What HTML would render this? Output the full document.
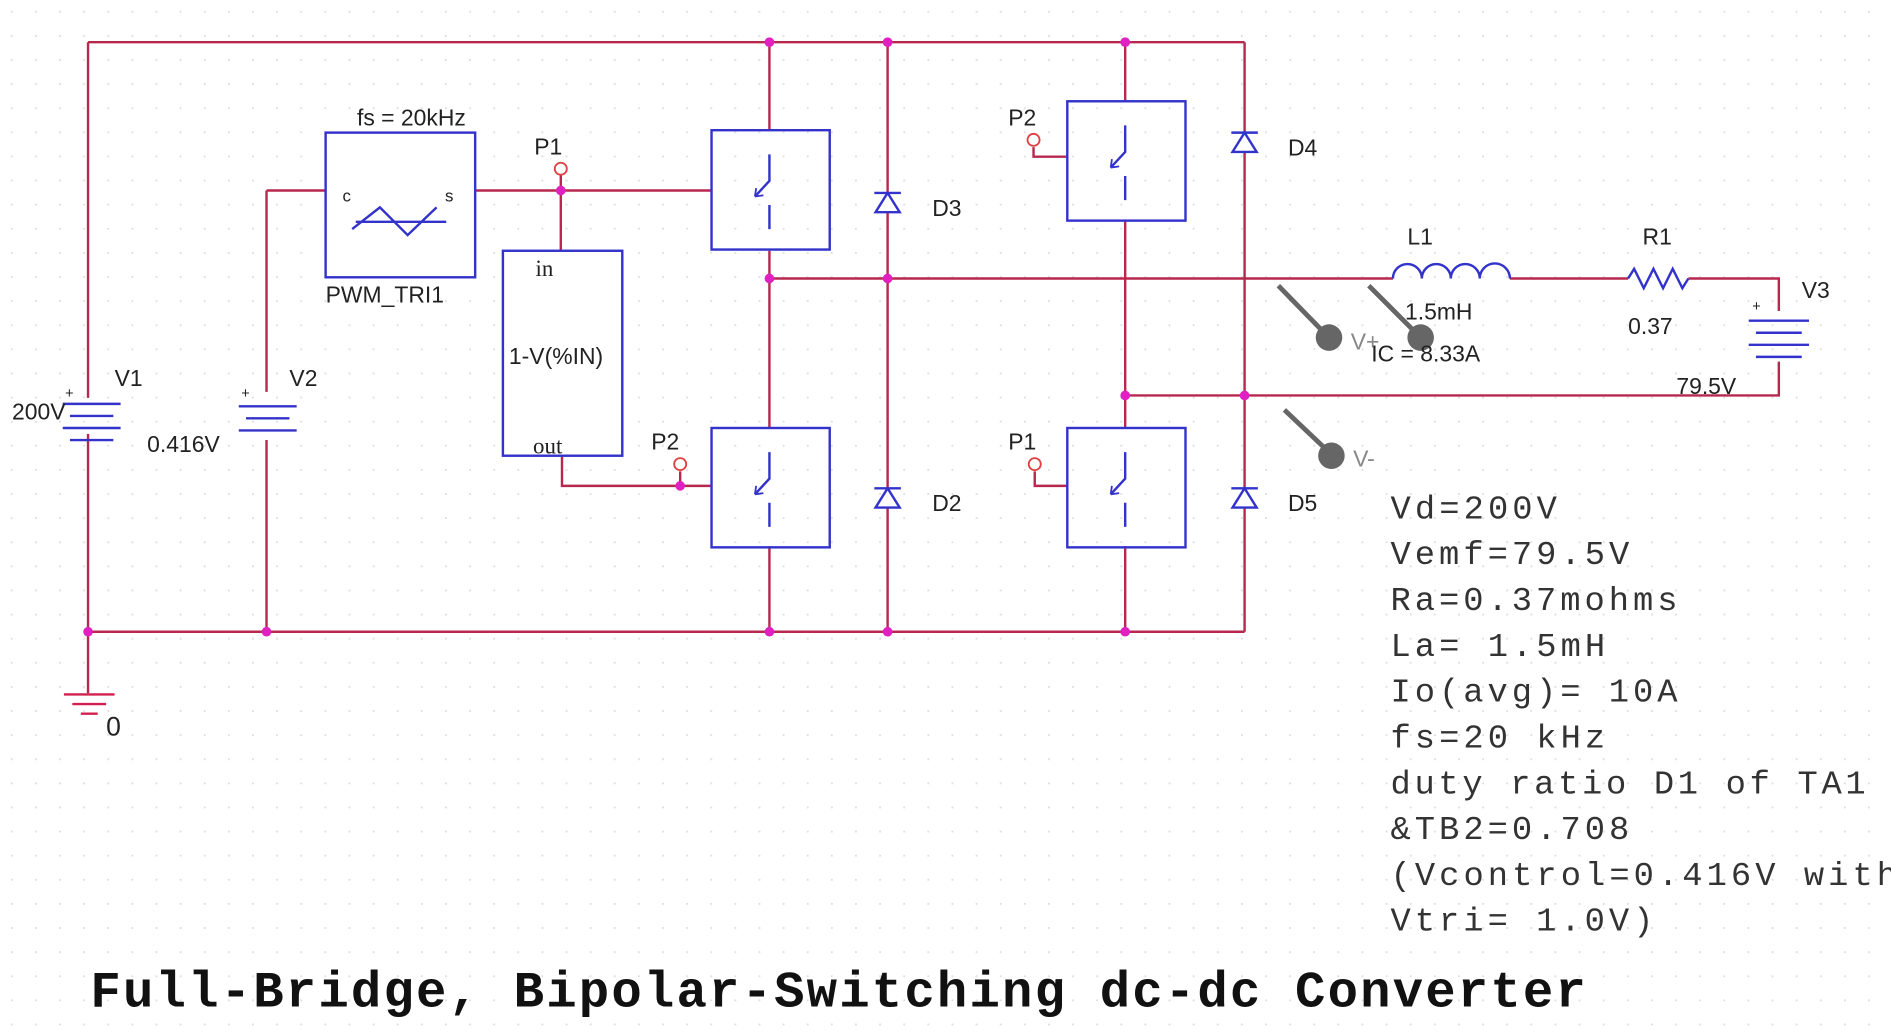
<!DOCTYPE html>
<html><head><meta charset="utf-8"><style>
html,body{margin:0;padding:0;background:#fff;}
svg{display:block;}
</style></head><body>
<svg width="1891" height="1032" viewBox="0 0 1568 856" preserveAspectRatio="none" xmlns="http://www.w3.org/2000/svg">
<defs>
<pattern id="g" width="20" height="20" patternUnits="userSpaceOnUse"><rect x="9" y="9" width="1.5" height="1.5" fill="#ddd"/></pattern>
<g id="sw"><rect x="0" y="0" width="98" height="99" fill="none" stroke="#3333cc" stroke-width="2"/>
<path d="M48 20 V42 L36 55 M48 62 V82" stroke="#3333cc" stroke-width="2" fill="none"/>
<path d="M36 55 l1 -7 M36 55 l7 -1" stroke="#3333cc" stroke-width="1.5"/></g>
<g id="di"><path d="M-11 -8 H11 M0 -8 L-10 8 H10 Z" stroke="#3333cc" stroke-width="2" fill="#fff"/></g>
</defs>
<rect width="1568" height="856" fill="url(#g)"/>
<g stroke="#b8284e" stroke-width="2" fill="none">
<path d="M73 35 H1032 M73 524 H1032 M73 35 V330 M73 360 V575 M221 158 V325 M221 365 V524 M221 158 H270 M394 158 H590 M465 145 V208 M466 378 V403 H590 M564 391 V403"/>
<path d="M638 35 V108 M638 208 V355 M638 453 V524 M736 35 V524 M933 35 V84 M933 183 V355 M933 453 V524 M1032 35 V524"/>
<path d="M638 231 H1155 M1252 231 H1350 M1400 231 H1475 V258 M1475 300 V328 H933"/>
<path d="M857 122 V130 H885 M858 391 V403 H885"/>
</g>
<g fill="#e020c0">
<circle cx="638" cy="35" r="4"/><circle cx="736" cy="35" r="4"/><circle cx="933" cy="35" r="4"/>
<circle cx="73" cy="524" r="4"/><circle cx="221" cy="524" r="4"/><circle cx="638" cy="524" r="4"/><circle cx="736" cy="524" r="4"/><circle cx="933" cy="524" r="4"/>
<circle cx="465" cy="158" r="4"/><circle cx="564" cy="403" r="4"/><circle cx="638" cy="231" r="4"/><circle cx="736" cy="231" r="4"/><circle cx="933" cy="328" r="4"/><circle cx="1032" cy="328" r="4"/>
</g>
<g fill="#fff" stroke="#e04040" stroke-width="1.5"><circle cx="465" cy="140" r="5"/><circle cx="564" cy="385" r="5"/><circle cx="857" cy="116" r="5"/><circle cx="858" cy="385" r="5"/></g>
<use href="#sw" x="590" y="108"/><use href="#sw" x="590" y="355"/><use href="#sw" x="885" y="84"/><use href="#sw" x="885" y="355"/>
<use href="#di" x="736" y="168"/><use href="#di" x="736" y="413"/><use href="#di" x="1032" y="118"/><use href="#di" x="1032" y="413"/>
<rect x="270" y="110" width="124" height="120" fill="#fff" stroke="#3333cc" stroke-width="2"/>
<path d="M292 190 L315 172 L338 195 L362 172 M295 184 H370" stroke="#3333cc" stroke-width="2" fill="none"/>
<rect x="417" y="208" width="99" height="170" fill="#fff" stroke="#3333cc" stroke-width="2"/>
<g stroke="#3333cc" stroke-width="2">
<path d="M52 335 H100 M58 345 H94 M52 355 H100 M58 365 H94"/>
<path d="M198 337 H246 M204 347 H240 M198 357 H246"/>
<path d="M1450 266 H1500 M1456 276 H1494 M1450 286 H1500 M1456 296 H1494"/>
<path d="M1155 231 a12 12 0 0 1 24 0 a12 12 0 0 1 24 0 a12 12 0 0 1 24 0 a12 12 0 0 1 25 0" fill="none"/>
<path d="M1350 231 l5 -8 l8 16 l8 -16 l8 16 l8 -16 l8 16 l5 -8" fill="none"/>
</g>
<g stroke="#d02050" stroke-width="2"><path d="M53 576 H95 M60 584 H88 M67 592 H81"/></g>
<g stroke="#666" stroke-width="4"><path d="M1060 237 L1100 278 M1135 237 L1176 278 M1065 340 L1103 376"/></g>
<g fill="#666"><circle cx="1102" cy="280" r="11"/><circle cx="1178" cy="280" r="11"/><circle cx="1104" cy="378" r="11"/></g>
<g font-size="19" style="font-family:'Liberation Sans',sans-serif" fill="#222">
<text x="296" y="104">fs = 20kHz</text><text x="270" y="251">PWM_TRI1</text>
<text x="284" y="167" font-size="14">c</text><text x="369" y="167" font-size="14">s</text>
<text x="443" y="128">P1</text><text x="540" y="373">P2</text><text x="836" y="104">P2</text><text x="836" y="373">P1</text>
<text x="773" y="179">D3</text><text x="773" y="424">D2</text><text x="1068" y="129">D4</text><text x="1068" y="424">D5</text>
<text x="95" y="320">V1</text><text x="10" y="348">200V</text><text x="240" y="320">V2</text><text x="122" y="375">0.416V</text>
<text x="1167" y="203">L1</text><text x="1165" y="265">1.5mH</text><text x="1137" y="300">IC = 8.33A</text>
<text x="1362" y="203">R1</text><text x="1350" y="277">0.37</text><text x="1494" y="247">V3</text><text x="1390" y="327">79.5V</text>
<text x="1120" y="290" fill="#888">V+</text><text x="1122" y="387" fill="#888">V-</text>
<text x="88" y="610" font-size="22">0</text>
<text x="444" y="229" style="font-family:'Liberation Serif',serif">in</text><text x="422" y="302">1-V(%IN)</text><text x="442" y="376" style="font-family:'Liberation Serif',serif">out</text>
<text x="54" y="330" font-size="12">+</text><text x="200" y="330" font-size="12">+</text><text x="1453" y="258" font-size="12">+</text>
</g>
<g style="font-family:'Liberation Mono',monospace" font-size="28" fill="#333">
<text x="1153" y="430" textLength="138">Vd=200V</text>
<text x="1153" y="468" textLength="198">Vemf=79.5V</text>
<text x="1153" y="506" textLength="238">Ra=0.37mohms</text>
<text x="1153" y="544" textLength="178">La= 1.5mH</text>
<text x="1153" y="582" textLength="238">Io(avg)= 10A</text>
<text x="1153" y="620" textLength="178">fs=20 kHz</text>
<text x="1153" y="658" textLength="394">duty ratio D1 of TA1</text>
<text x="1153" y="696" textLength="198">&amp;TB2=0.708</text>
<text x="1153" y="734" textLength="420">(Vcontrol=0.416V with</text>
<text x="1153" y="772" textLength="218">Vtri= 1.0V)</text>
</g>
<text x="75" y="835" style="font-family:'Liberation Mono',monospace;font-weight:bold" font-size="42" fill="#111" textLength="1240">Full-Bridge, Bipolar-Switching dc-dc Converter</text>
</svg>
</body></html>
